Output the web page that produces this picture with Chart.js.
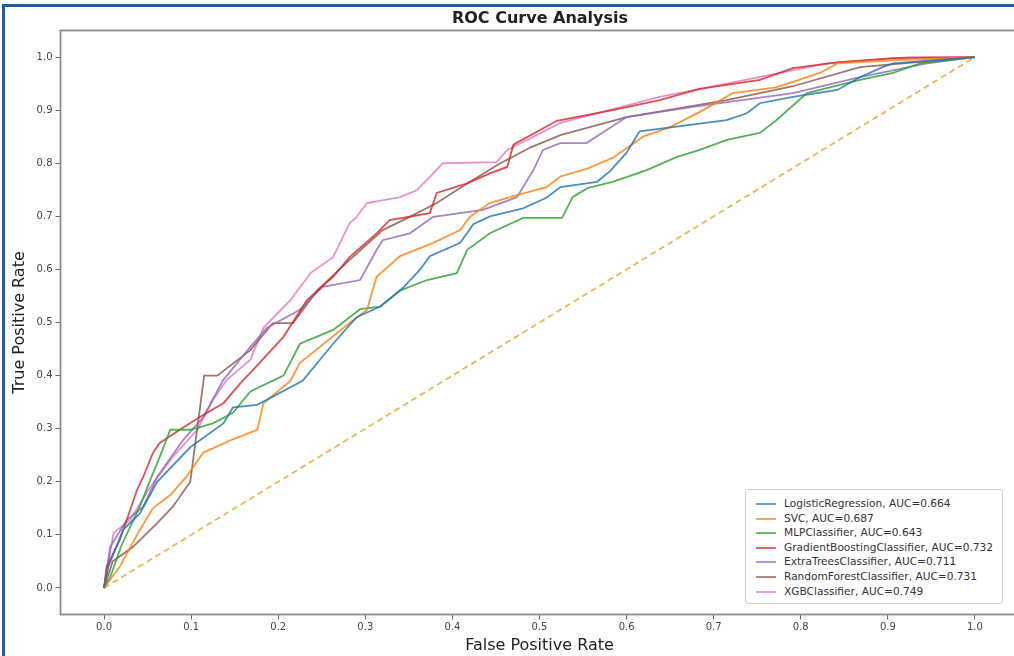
<!DOCTYPE html>
<html>
<head>
<meta charset="utf-8">
<script src="https://cdn.jsdelivr.net/npm/chart.js@4.4.1/dist/chart.umd.min.js"></script>
<style>
  html, body { margin: 0; padding: 0; background: #fff; width: 1014px; height: 656px; overflow: hidden; }
  #wrap { position: relative; width: 1014px; height: 656px; overflow: hidden; }
  #myChart { position: absolute; left: 0; top: 0; }
  .frame { position: absolute; left: 2px; top: 4px; width: 1100px; height: 700px;
    border-top: 3px solid #1c5ca6; border-left: 3px solid #1c5ca6; pointer-events: none; }
  .title { position: absolute; top: 8px; left: 340px; width: 400px; text-align: center;
    font: bold 16px "DejaVu Sans", sans-serif; color: #222; }
  .legend { position: absolute; left: 745px; top: 489px; width: 258px; height: 115px;
    background: #fff; border: 1px solid #d0d0d0; border-radius: 3px; box-sizing: border-box;
    padding: 6px 0 0 10px; font: 10.6px "DejaVu Sans", sans-serif; color: #333; }
  .legend div { height: 14.6px; line-height: 14.6px; white-space: nowrap; }
  .legend span { display: inline-block; width: 20px; height: 0; border-top: 2px solid; vertical-align: middle; margin-right: 8px; }
</style>
</head>
<body>
<div id="wrap">
  <canvas id="myChart" width="1060" height="656"></canvas>
  <div class="title">ROC Curve Analysis</div>
  <div class="legend" id="legend"></div>
  <div class="frame"></div>
</div>
<script>
// model names, AUC scores and line colours
const models = ["LogisticRegression", "SVC", "MLPClassifier", "GradientBoostingClassifier",
  "ExtraTreesClassifier", "RandomForestClassifier", "XGBClassifier"];
const aucs = [0.664, 0.687, 0.643, 0.732, 0.711, 0.731, 0.749];
const colors = ["#1f77b4", "#ff7f0e", "#2ca02c", "#d62728", "#9467bd", "#8c564b", "#e377c2"];

// ROC points
const fprLR = [0, 0.005, 0.022, 0.041, 0.061, 0.099, 0.137, 0.148, 0.176, 0.228, 0.263, 0.29, 0.317, 0.343, 0.363, 0.374, 0.409, 0.424, 0.443, 0.481, 0.508, 0.524, 0.566, 0.581, 0.6, 0.615, 0.715, 0.738, 0.753, 0.791, 0.842, 0.868, 0.894, 0.906, 1];
const tprLR = [0, 0.04, 0.11, 0.14, 0.2, 0.265, 0.31, 0.34, 0.345, 0.39, 0.46, 0.51, 0.53, 0.565, 0.6, 0.625, 0.65, 0.685, 0.7, 0.715, 0.735, 0.755, 0.765, 0.785, 0.82, 0.86, 0.881, 0.894, 0.913, 0.925, 0.938, 0.962, 0.981, 0.988, 1];

const fprSVC = [0, 0.018, 0.041, 0.056, 0.076, 0.095, 0.114, 0.148, 0.176, 0.183, 0.214, 0.225, 0.282, 0.302, 0.313, 0.34, 0.378, 0.409, 0.42, 0.443, 0.474, 0.508, 0.524, 0.555, 0.584, 0.619, 0.65, 0.688, 0.722, 0.772, 0.822, 0.842, 0.906, 1];
const tprSVC = [0, 0.04, 0.109, 0.15, 0.175, 0.21, 0.255, 0.28, 0.298, 0.348, 0.39, 0.424, 0.499, 0.524, 0.586, 0.625, 0.65, 0.674, 0.699, 0.725, 0.74, 0.755, 0.775, 0.79, 0.81, 0.85, 0.868, 0.9, 0.932, 0.943, 0.97, 0.988, 0.994, 1];

const fprMLP = [0, 0.007, 0.02, 0.041, 0.053, 0.064, 0.076, 0.099, 0.125, 0.148, 0.168, 0.206, 0.225, 0.263, 0.294, 0.317, 0.34, 0.371, 0.405, 0.417, 0.443, 0.481, 0.526, 0.538, 0.555, 0.584, 0.623, 0.658, 0.684, 0.715, 0.753, 0.772, 0.807, 0.868, 0.906, 0.937, 1];
const tprMLP = [0, 0.02, 0.08, 0.153, 0.203, 0.247, 0.298, 0.298, 0.31, 0.33, 0.37, 0.4, 0.46, 0.486, 0.525, 0.53, 0.56, 0.58, 0.593, 0.637, 0.668, 0.697, 0.697, 0.736, 0.753, 0.765, 0.787, 0.812, 0.825, 0.844, 0.857, 0.881, 0.932, 0.957, 0.97, 0.988, 1];

const fprGB = [0, 0.003, 0.018, 0.026, 0.038, 0.045, 0.056, 0.064, 0.087, 0.11, 0.137, 0.16, 0.168, 0.206, 0.233, 0.263, 0.282, 0.313, 0.328, 0.374, 0.382, 0.417, 0.443, 0.463, 0.47, 0.52, 0.584, 0.638, 0.684, 0.753, 0.791, 0.842, 0.906, 1];
const tprGB = [0, 0.04, 0.09, 0.128, 0.185, 0.209, 0.254, 0.273, 0.298, 0.322, 0.348, 0.392, 0.405, 0.473, 0.542, 0.586, 0.623, 0.668, 0.693, 0.706, 0.744, 0.762, 0.781, 0.793, 0.835, 0.88, 0.9, 0.919, 0.94, 0.957, 0.979, 0.99, 0.998, 1];

const fprET = [0, 0.007, 0.026, 0.045, 0.061, 0.091, 0.114, 0.137, 0.168, 0.187, 0.225, 0.251, 0.294, 0.313, 0.32, 0.351, 0.378, 0.435, 0.474, 0.493, 0.504, 0.524, 0.554, 0.6, 0.676, 0.791, 0.868, 0.945, 1];
const tprET = [0, 0.077, 0.128, 0.153, 0.209, 0.279, 0.322, 0.392, 0.454, 0.49, 0.524, 0.567, 0.58, 0.637, 0.655, 0.668, 0.699, 0.712, 0.736, 0.787, 0.825, 0.838, 0.838, 0.887, 0.906, 0.932, 0.962, 0.988, 1];

const fprRF = [0, 0.01, 0.033, 0.061, 0.079, 0.099, 0.107, 0.115, 0.13, 0.168, 0.194, 0.217, 0.245, 0.282, 0.32, 0.351, 0.382, 0.417, 0.455, 0.49, 0.524, 0.6, 0.715, 0.791, 0.868, 1];
const tprRF = [0, 0.05, 0.077, 0.122, 0.153, 0.2, 0.3, 0.4, 0.4, 0.448, 0.499, 0.499, 0.561, 0.618, 0.674, 0.699, 0.725, 0.762, 0.8, 0.83, 0.853, 0.887, 0.919, 0.945, 0.981, 1];

const fprXGB = [0, 0.011, 0.03, 0.053, 0.079, 0.107, 0.125, 0.141, 0.168, 0.183, 0.214, 0.237, 0.263, 0.282, 0.29, 0.302, 0.34, 0.359, 0.378, 0.389, 0.451, 0.463, 0.524, 0.638, 0.715, 0.83, 0.925, 1];
const tprXGB = [0, 0.104, 0.128, 0.19, 0.247, 0.298, 0.354, 0.392, 0.43, 0.49, 0.542, 0.593, 0.623, 0.687, 0.699, 0.725, 0.736, 0.749, 0.781, 0.8, 0.802, 0.825, 0.876, 0.925, 0.95, 0.988, 1, 1];

const chanceX = [0, 1];
const chanceY = [0, 1];

const xTicks = [0, 0.1, 0.2, 0.3, 0.4, 0.5, 0.6, 0.7, 0.8, 0.9, 1.0];
const yTicks = [0, 0.1, 0.2, 0.3, 0.4, 0.5, 0.6, 0.7, 0.8, 0.9, 1.0];

const fprs = [fprLR, fprSVC, fprMLP, fprGB, fprET, fprRF, fprXGB];
const tprs = [tprLR, tprSVC, tprMLP, tprGB, tprET, tprRF, tprXGB];

function toPoints(xs, ys) {
  return xs.map((x, i) => ({ x: x, y: ys[i] }));
}

const datasets = models.map((m, i) => ({
  label: m + ", AUC=" + aucs[i].toFixed(3),
  data: toPoints(fprs[i], tprs[i]),
  borderColor: colors[i] + "d0",
  borderWidth: 1.8,
  pointRadius: 0,
  showLine: true,
  fill: false,
}));

datasets.push({
  label: "chance",
  data: toPoints(chanceX, chanceY),
  borderColor: "#e8b94c",
  borderWidth: 1.8,
  borderDash: [6, 4],
  pointRadius: 0,
  showLine: true,
  fill: false,
});

// grey box round the plot area
const frame = {
  id: "frame",
  afterDraw(chart) {
    const a = chart.chartArea;
    const ctx = chart.ctx;
    ctx.save();
    ctx.strokeStyle = "#8a8a8a";
    ctx.lineWidth = 1.8;
    ctx.strokeRect(a.left, a.top, a.right - a.left, a.bottom - a.top);
    ctx.restore();
  }
};

const tickFont = { family: "DejaVu Sans", size: 10 };
const titleFont = { family: "DejaVu Sans", size: 16 };

new Chart(document.getElementById("myChart"), {
  type: "scatter",
  data: { datasets },
  plugins: [frame],
  options: {
    responsive: false,
    animation: false,
    devicePixelRatio: 1,
    layout: { padding: { top: 30.5, right: 41.5, left: 0, bottom: 0 } },
    plugins: { legend: { display: false }, title: { display: false }, tooltip: { enabled: false } },
    scales: {
      x: {
        type: "linear",
        min: -0.05,
        max: 1.05,
        afterBuildTicks: (s) => { s.ticks = xTicks.map(v => ({ value: v })); },
        afterFit: (s) => { s.height = 41.5; },
        ticks: { font: tickFont, color: "#444", padding: 2, callback: (v) => v.toFixed(1), maxRotation: 0 },
        grid: { drawOnChartArea: false, drawTicks: true, tickLength: 5, color: "#666" },
        border: { display: false },
        title: { display: true, text: "False Positive Rate", font: titleFont, color: "#222", padding: { top: 0, bottom: 1 } },
      },
      y: {
        type: "linear",
        min: -0.05,
        max: 1.05,
        afterBuildTicks: (s) => { s.ticks = yTicks.map(v => ({ value: v })); },
        afterFit: (s) => { s.width = 60.5; },
        ticks: { font: tickFont, color: "#444", padding: 3, callback: (v) => v.toFixed(1) },
        grid: { drawOnChartArea: false, drawTicks: true, tickLength: 5, color: "#666" },
        border: { display: false },
        title: { display: true, text: "True Positive Rate", font: titleFont, color: "#222", padding: { top: 10, bottom: 0 } },
      },
    },
  },
});

// legend box inside the plot, built from the datasets
const legend = document.getElementById("legend");
datasets.slice(0, models.length).forEach((d, i) => {
  const row = document.createElement("div");
  row.innerHTML = '<span style="border-color:' + colors[i] + 'b0"></span>' + d.label;
  legend.appendChild(row);
});
</script>
</body>
</html>
